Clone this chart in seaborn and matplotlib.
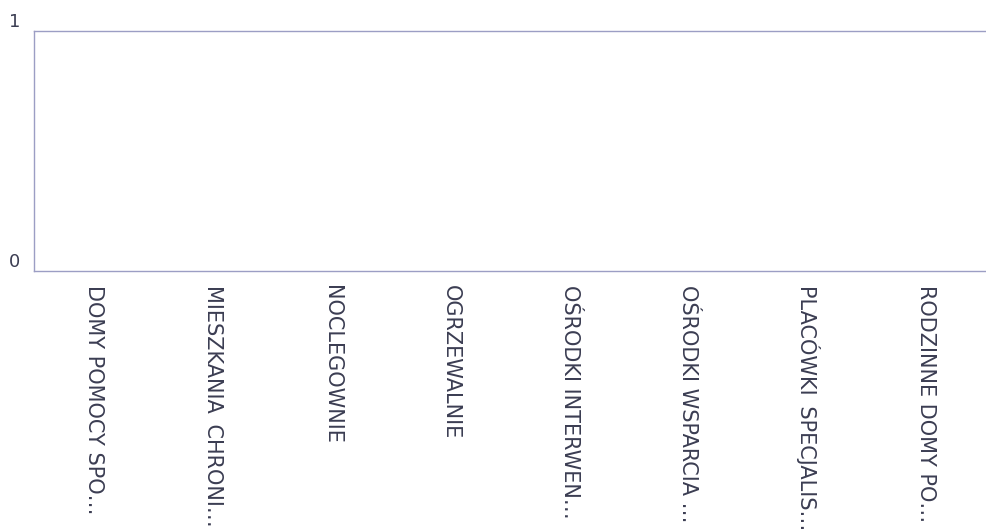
import matplotlib
matplotlib.use("Agg")
import matplotlib.pyplot as plt
import seaborn as sns
import pandas as pd

categories = [
    "DOMY POMOCY SPO…",
    "MIESZKANIA \u2009CHRONI…",
    "NOCLEGOWNIE",
    "OGRZEWALNIE",
    "OŚRODKI INTERWEN…",
    "OŚRODKI WSPARCIA …",
    "PLACÓWKI \u2009SPECJALIS…",
    "RODZINNE DOMY PO…",
]
values = [0, 0, 0, 0, 0, 0, 0, 0]
y_ticks = [0, 1]

sns.set_theme(style="white")
plt.rcParams["font.family"] = ["DejaVu Sans"]

line_color = "#9c9ec4"
text_color = "#3b3d52"

df = pd.DataFrame({"category": categories, "value": values})

fig = plt.figure(figsize=(9.86, 5.32), dpi=100)
ax = fig.add_axes([34 / 986, 1 - 271 / 532, 1 - 34 / 986, (271 - 31) / 532])

sns.barplot(data=df, x="category", y="value", color="#5b6bbf", ax=ax)

ax.set_ylim(0, 1)
ax.set_yticks(y_ticks)
ax.set_yticklabels([str(v) for v in y_ticks])
ax.set_xlabel("")
ax.set_ylabel("")

for side in ["left", "bottom", "top"]:
    ax.spines[side].set_visible(True)
    ax.spines[side].set_color(line_color)
    ax.spines[side].set_linewidth(1.0)
ax.spines["right"].set_visible(False)

ax.tick_params(axis="y", length=0, pad=10, labelsize=13, labelcolor=text_color)
ax.tick_params(axis="x", length=0, pad=10, labelsize=15, labelcolor=text_color)

for lbl in ax.get_xticklabels():
    lbl.set_rotation(270)
    lbl.set_ha("center")
    lbl.set_va("top")

# numbers sit just above their gridline rather than centred on it
for lbl in ax.get_yticklabels():
    lbl.set_va("bottom")

fig.savefig("out.png", dpi=100, facecolor="white")
